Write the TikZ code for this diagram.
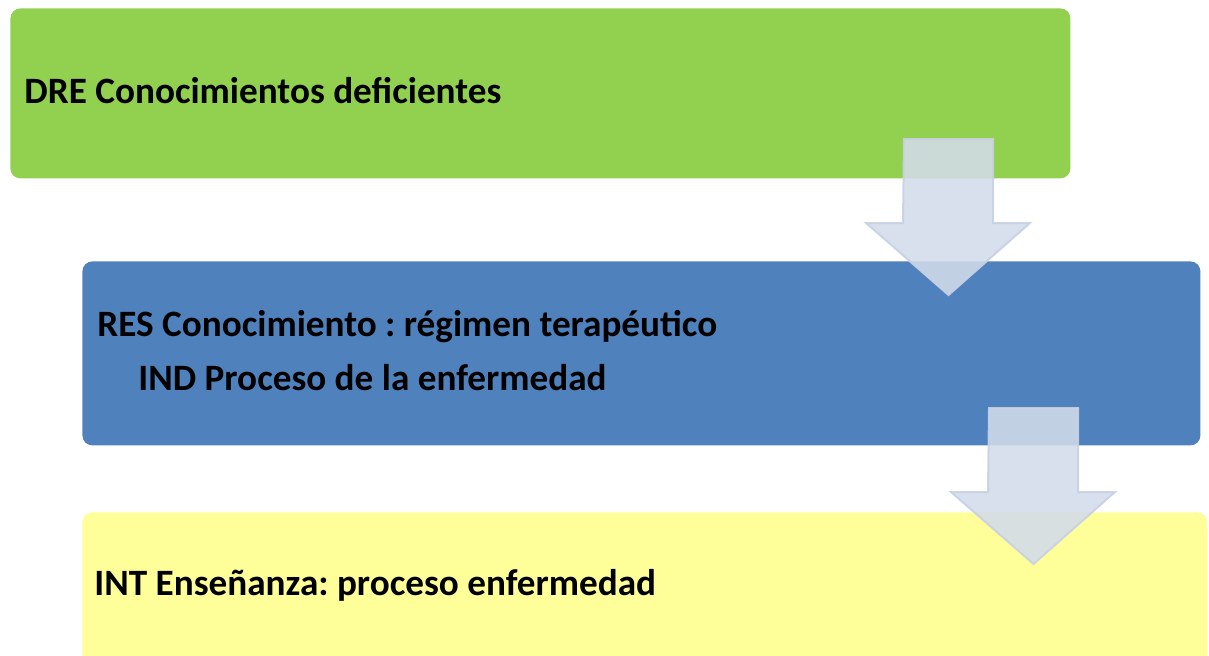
\documentclass[tikz,border=0pt]{standalone}
\usepackage{fontspec}
\setmainfont{Carlito}
\usetikzlibrary{positioning}
\frenchspacing

\definecolor{verde}{HTML}{92D050}
\definecolor{azul}{HTML}{4F81BD}
\definecolor{amarillo}{HTML}{FFFF99}
\definecolor{flechafill}{HTML}{D3DBEA}
\definecolor{flechaborde}{HTML}{C8D1E4}

\tikzset{
	caja/.style = {rounded corners=5pt, inner sep=0pt, anchor=north west},
	texto/.style = {font=\fontsize{18.6}{22}\selectfont\bfseries, inner sep=0pt, anchor=base west},
	flecha/.style = {fill=flechafill, draw=flechaborde, line width=1pt, fill opacity=0.88, draw opacity=0.9, line join=miter}
}

\newcommand{\flechabloque}[1]{%
	\draw[flecha] (#1) ++(-44.5,0) -- ++(89,0) -- ++(0,84) -- ++(37,0) -- ++(-81.5,72)
		-- ++(-82.5,-72) -- ++(37,0) -- cycle;}

\begin{document}
\begin{tikzpicture}[x=0.5pt, y=-0.5pt]
	\useasboundingbox (0,0) rectangle (1209,655);
	\clip (0,0) rectangle (1209,655);
	% cajas
	\node[caja, fill=verde, minimum width=530pt, minimum height=85pt] (dre) at (10,8) {};
	\node[caja, fill=azul, minimum width=559pt, minimum height=92pt] (res) at (82,261) {};
	\node[caja, fill=amarillo, minimum width=562.5pt, minimum height=90pt] (int) at (82,512) {};
	% textos
	\node[texto] (tdre) at (24,103) {DRE Conocimientos deficientes};
	\node[texto] (tres) at (97,336) {RES Conocimiento : régimen terapéutico};
	\node[texto] (tind) at (138,390) {IND Proceso de la enfermedad};
	\node[texto] (tint) at (94,595) {INT Enseñanza: proceso enfermedad};
	% flechas
	\coordinate (f1) at (948.5,139);
	\coordinate (f2) at (1033.5,408);
	\flechabloque{f1}
	\flechabloque{f2}
\end{tikzpicture}
\end{document}
